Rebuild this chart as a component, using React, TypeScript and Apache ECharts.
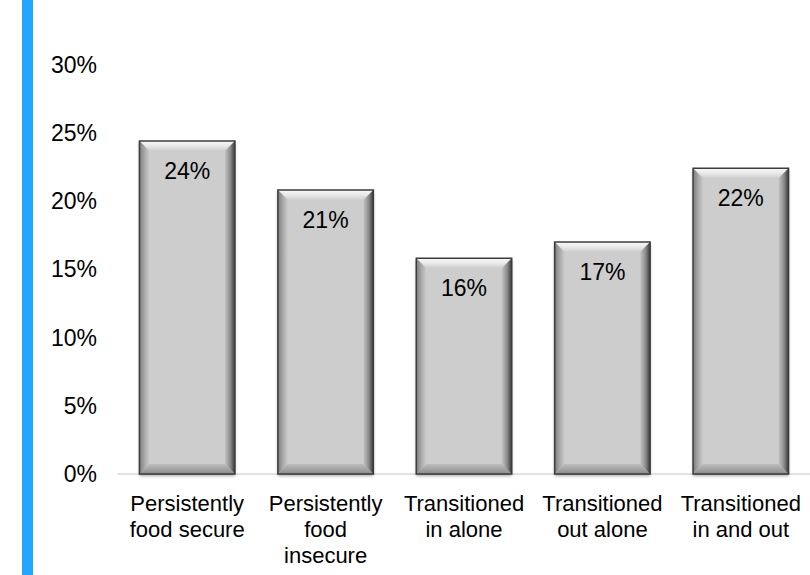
import React, { useEffect, useRef } from "react";
import * as echarts from "echarts";

const categories = [
  "Persistently\nfood secure",
  "Persistently\nfood\ninsecure",
  "Transitioned\nin alone",
  "Transitioned\nout alone",
  "Transitioned\nin and out",
];
const shares = [24.4, 20.8, 15.8, 17.0, 22.4];
const yTicks = { min: 0, max: 30, interval: 5 };

const FONT = 'Arial, "Liberation Sans", Helvetica, sans-serif';

const lin = (x2: number, y2: number, stops: [number, string][]) => ({
  type: "linear",
  x: 0,
  y: 0,
  x2,
  y2,
  colorStops: stops.map(([offset, color]) => ({ offset, color })),
});

// Bevelled grey bar with its value printed near the top edge
function renderBevelBar(params: any, api: any) {
  const i = api.value(0);
  const v = api.value(1);
  const top = api.coord([i, v]);
  const base = api.coord([i, 0]);
  const band = api.size([1, 0])[0];
  const w = band * 0.69;
  const x0 = top[0] - w / 2;
  const x1 = x0 + w;
  const y0 = top[1];
  const y1 = base[1];
  const b = 10;
  return {
    type: "group",
    children: [
      {
        type: "rect",
        shape: { x: x0, y: y0, width: w, height: y1 - y0 },
        style: {
          fill: "#cdcdcd",
          shadowColor: "rgba(0,0,0,0.35)",
          shadowBlur: 3,
          shadowOffsetY: 2,
        },
      },
      {
        type: "polygon",
        shape: { points: [[x0, y0], [x1, y0], [x1 - b, y0 + b], [x0 + b, y0 + b]] },
        style: { fill: lin(0, 1, [[0, "#f8f8f8"], [0.5, "#e8e8e8"], [1, "#cdcdcd"]]) },
      },
      {
        type: "polygon",
        shape: { points: [[x0, y0], [x0 + b, y0 + b], [x0 + b, y1 - b], [x0, y1]] },
        style: { fill: lin(1, 0, [[0, "#7c7c7c"], [0.5, "#a8a8a8"], [1, "#cbcbcb"]]) },
      },
      {
        type: "polygon",
        shape: { points: [[x0, y1], [x1, y1], [x1 - b, y1 - b], [x0 + b, y1 - b]] },
        style: { fill: lin(0, 1, [[0, "#bdbdbd"], [1, "#8c8c8c"]]) },
      },
      {
        type: "polygon",
        shape: { points: [[x1, y0], [x1, y1], [x1 - b, y1 - b], [x1 - b, y0 + b]] },
        style: { fill: lin(1, 0, [[0, "#c4c4c4"], [0.55, "#8a8a8a"], [1, "#3a3a3a"]]) },
      },
      {
        type: "rect",
        shape: { x: x0, y: y0, width: w, height: y1 - y0 },
        style: { fill: "none", stroke: "#3c3c3c", lineWidth: 1.5 },
      },
      {
        type: "text",
        style: {
          text: `${Math.round(v)}%`,
          x: top[0],
          y: y0 + 30,
          align: "center",
          verticalAlign: "middle",
          fill: "#000000",
          font: `23px ${FONT}`,
        },
      },
    ],
  };
}

export default function App() {
  const ref = useRef<HTMLDivElement>(null);

  useEffect(() => {
    if (!ref.current) return;
    const chart = echarts.init(ref.current, undefined, { renderer: "svg" });
    chart.setOption({
      animation: false,
      backgroundColor: "#ffffff",
      textStyle: { fontFamily: FONT },
      grid: { left: 118, right: -10.5, top: 64.5, bottom: 101, containLabel: false },
      graphic: [
        {
          type: "rect",
          shape: { x: 22, y: 0, width: 11, height: 575 },
          style: { fill: "#22a7ff" },
        },
      ],
      xAxis: {
        type: "category",
        data: categories,
        axisLine: { show: true, lineStyle: { color: "#d9d9d9", width: 1.5 } },
        axisTick: { show: false },
        axisLabel: {
          interval: 0,
          color: "#000000",
          fontSize: 22,
          lineHeight: 26,
          margin: 16,
          fontFamily: FONT,
        },
      },
      yAxis: {
        type: "value",
        min: yTicks.min,
        max: yTicks.max,
        interval: yTicks.interval,
        axisLine: { show: false },
        axisTick: { show: false },
        splitLine: { show: false },
        axisLabel: {
          formatter: "{value}%",
          color: "#000000",
          fontSize: 23,
          margin: 21,
          fontFamily: FONT,
        },
      },
      series: [
        {
          type: "custom",
          renderItem: renderBevelBar,
          encode: { x: 0, y: 1 },
          data: shares.map((v, i) => [i, v]),
        },
      ],
    });
    return () => chart.dispose();
  }, []);

  return (
    <div
      ref={ref}
      style={{ position: "fixed", left: 0, top: 0, width: 810, height: 575 }}
    />
  );
}
